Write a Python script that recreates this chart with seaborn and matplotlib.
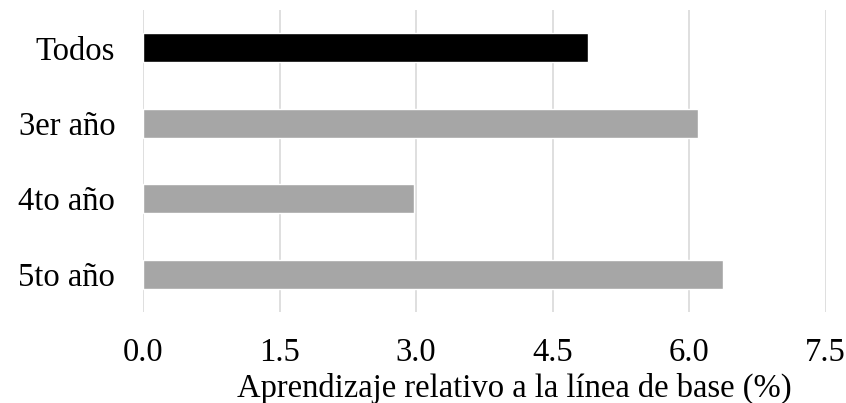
import matplotlib.pyplot as plt
import pandas as pd
import seaborn as sns

categories = ["Todos", "3er año", "4to año", "5to año"]
values = [4.89, 6.10, 2.98, 6.37]
bar_colors = ["#000000", "#a6a6a6", "#a6a6a6", "#a6a6a6"]
x_ticks = [0.0, 1.5, 3.0, 4.5, 6.0, 7.5]
x_label = "Aprendizaje relativo a la línea de base (%)"


def main() -> None:
    df = pd.DataFrame({"grupo": categories, "valor": values})

    sns.set_theme(style="white")
    plt.rcParams["font.family"] = ["Liberation Serif", "DejaVu Serif"]

    fig = plt.figure(figsize=(8.46, 4.03), dpi=100)
    ax = fig.add_axes([0.169, 0.226, 0.807, 0.749])
    sns.barplot(
        data=df, x="valor", y="grupo", hue="grupo", palette=bar_colors,
        legend=False, width=0.38, ax=ax, saturation=1,
    )

    ax.set_xlim(0, 7.5)
    ax.set_xticks(x_ticks)
    ax.set_xticklabels([f"{t:.1f}" for t in x_ticks])
    ax.grid(axis="x", color="#d9d9d9", linewidth=1.2)
    ax.set_axisbelow(True)
    for side in ax.spines.values():
        side.set_visible(False)
    ax.tick_params(axis="both", length=0, labelsize=23.5, colors="black")
    ax.tick_params(axis="x", pad=18.5)
    ax.tick_params(axis="y", pad=20)
    ax.set_ylabel("")
    ax.set_xlabel(x_label, fontsize=23.5, color="black")
    ax.xaxis.set_label_coords(0.544, -0.281)
    ax.xaxis.label.set_va("baseline")
    ax.xaxis.label.set_ha("center")

    fig.savefig("out.png", dpi=100)
    plt.close(fig)


if __name__ == "__main__":
    main()
